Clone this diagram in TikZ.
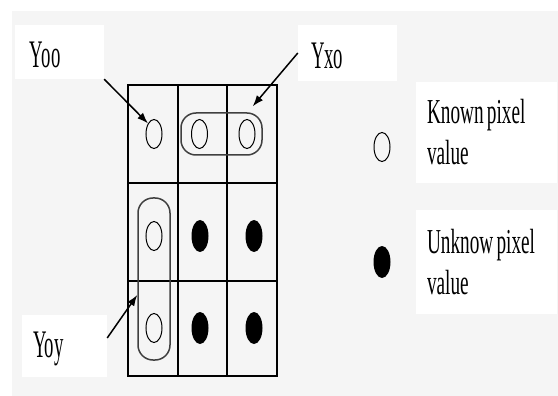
\documentclass[tikz,border=0pt]{standalone}
\usepackage{fontspec}
\setmainfont{Liberation Serif}
\usepackage{graphicx}
\usepackage{tikz}
\usetikzlibrary{shapes}
\usetikzlibrary{arrows.meta}
\newcommand{\squeeze}[2]{\scalebox{#1}[1]{#2}}
\tikzset{ lbl_box/.style = {rectangle, fill=white, align=left, inner ysep=0pt, text height=32pt, font=\fontsize{39}{47}\selectfont} }
\tikzset{ key_box/.style = {rectangle, fill=white, align=left, inner xsep=11pt, inner ysep=0pt, text width=119pt, font=\fontsize{35}{41}\selectfont} }
\tikzset{ known/.style = {ellipse, draw, line width=1pt, minimum width=16pt, minimum height=29pt, inner sep=0pt} }
\tikzset{ unknown/.style = {ellipse, fill=black, minimum width=17pt, minimum height=32pt, inner sep=0pt} }
\tikzset{ group/.style = {rectangle, rounded corners=15pt, draw=black!75, line width=1.5pt} }
\tikzset{ pointer/.style = {-{Latex[length=11pt,width=8pt]}, line width=1.5pt} }

\begin{document}
\begin{tikzpicture}[x=1pt,y=-1pt]
\useasboundingbox (0,0) rectangle (558,396);
\fill[black!4] (12,11) rectangle (558,396);
\draw[line width=1.4pt] (128,85) rectangle (277,376);
\foreach \x in {178,227} \draw[line width=1.4pt] (\x,85) -- (\x,376);
\foreach \y in {183,281} \draw[line width=1.4pt] (128,\y) -- (277,\y);
\node[known] (c11) at (154,134) {};
\node[known] (c12) at (199.5,134) {};
\node[known] (c13) at (247,134) {};
\node[known] (c21) at (154,236) {};
\node[unknown] (c22) at (200,236) {};
\node[unknown] (c23) at (254,236) {};
\node[known] (c31) at (154,328) {};
\node[unknown] (c32) at (200,328) {};
\node[unknown] (c33) at (254,328) {};
\node[group, minimum width=81pt, minimum height=42pt] (pairx) at (221.5,134) {};
\node[group, minimum width=32pt, minimum height=162pt] (pairy) at (154,279) {};
\node[lbl_box, text width=59pt, inner xsep=15pt, minimum height=54pt] (yoo) at (59.5,52) {\squeeze{0.48}{Yoo}};
\node[lbl_box, text width=73pt, inner xsep=13pt, minimum height=56pt] (yxo) at (347.5,53) {\squeeze{0.48}{Yxo}};
\node[lbl_box, text width=63pt, inner xsep=11pt, minimum height=62pt] (yoy) at (64.5,346) {\squeeze{0.48}{Yoy}};
\node[known] (key_known) at (382,147) {};
\node[unknown] (key_unknown) at (382,262) {};
\node[key_box, minimum height=101pt] (known_txt) at (486.5,132.5) {\squeeze{0.55}{Known\hspace{6pt}pixel}\\\squeeze{0.55}{value}};
\node[key_box, minimum height=104pt] (unknown_txt) at (486.5,262) {\squeeze{0.55}{Unknow\hspace{6pt}pixel}\\\squeeze{0.55}{value}};
\draw[pointer] (yoo.south east) -- (c11.north west);
\draw[pointer] (yxo.west) -- ([xshift=-10pt,yshift=6pt]pairx.north east);
\draw[pointer] ([yshift=8pt]yoy.east) -- ([yshift=-16pt]pairy.west);
\end{tikzpicture}
\end{document}
